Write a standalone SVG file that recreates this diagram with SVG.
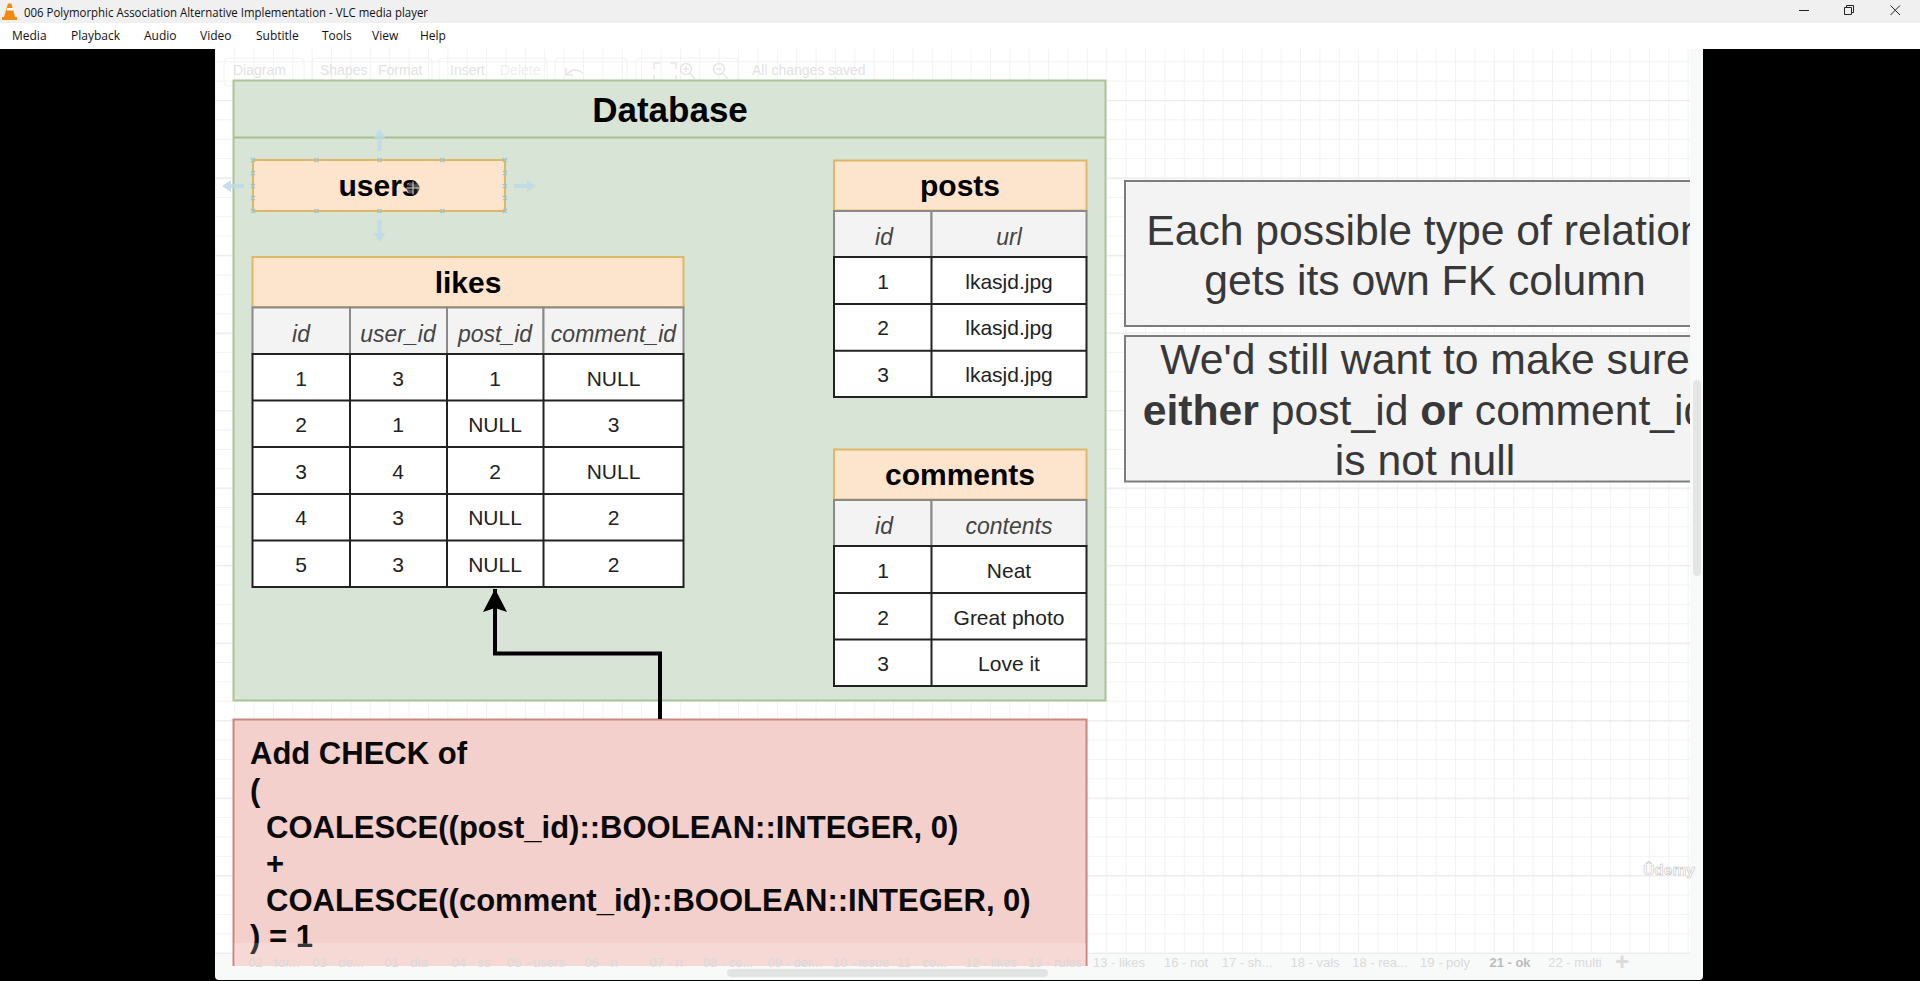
<svg xmlns="http://www.w3.org/2000/svg" width="1920" height="981" viewBox="0 0 1920 981">
<style>
text{font-family:"Liberation Sans",Arial,sans-serif}
.win{font-family:"Open Sans","Liberation Sans",sans-serif;font-size:12px;fill:#111}
.ttl{font-weight:700;font-size:30px;fill:#000;text-anchor:middle}
.hd{font-style:italic;font-size:23px;fill:#444;text-anchor:middle}
.cl{font-size:21px;fill:#222;text-anchor:middle}
.orange{fill:#fde4cd;stroke:#deb866;stroke-width:2}
.hrow{fill:#f3f3f3;stroke:#8a8a8a;stroke-width:2}
.row{fill:#fff;stroke:#222;stroke-width:2}
.note{fill:#f3f3f3;stroke:#7c7c7c;stroke-width:2}
.nt{font-size:42.700px;fill:#383838;text-anchor:middle}
.chk{font-weight:700;font-size:31px;fill:#0a0a0a}
.tab{font-size:13px;fill:#dadada;text-anchor:middle}
.tb{font-size:14px;fill:#e2e2e2}
.tbi{fill:none;stroke:#e6e6e6;stroke-width:1.500}
.tbo{fill:none;stroke:#f2f2f2;stroke-width:1}
.hdl{stroke:#9cc4d4;stroke-width:1.500;fill:none}
.sel{fill:#bcdbe8;opacity:.85}
</style>
<defs>
<pattern id="g" width="19.38" height="19.38" patternUnits="userSpaceOnUse" x="1.6" y="3.1">
<path d="M.5 0V19.38M0 .5H19.38" fill="none" stroke="#f1f2f2" stroke-width="1"/>
</pattern>
<pattern id="gm" width="19.38" height="77.52" patternUnits="userSpaceOnUse" x="1.6" y="22.5">
<path d="M0 .5H19.38" fill="none" stroke="#ececec" stroke-width="1.5"/>
</pattern>
<marker id="ah" markerUnits="userSpaceOnUse" markerWidth="26" markerHeight="26" refX="24" refY="12" orient="auto">
<path d="M24 12L1 0L5 12L1 24Z" fill="#000"/>
</marker>
<clipPath id="nclip"><rect x="1100" y="170" width="590" height="330"/></clipPath>
</defs>

<rect width="1920" height="981" fill="#000"/>
<rect width="1920" height="23" fill="#f0f0f0"/>
<rect y="23" width="1920" height="26" fill="#fff"/>
<path d="M8 3.500h3.500l3.500 13.500h2v3H2v-3h2z" fill="#f08a12"/><path d="M7.200 8h5.600l.6 2.400H6.600z" fill="#fff"/>
<text class="win" x="24" y="16.500" textLength="404" lengthAdjust="spacingAndGlyphs">006 Polymorphic Association Alternative Implementation - VLC media player</text>
<g>
<text class="win" x="12" y="40">Media</text><text class="win" x="71" y="40">Playback</text><text class="win" x="144" y="40">Audio</text><text class="win" x="200" y="40">Video</text><text class="win" x="256" y="40">Subtitle</text><text class="win" x="322" y="40">Tools</text><text class="win" x="372" y="40">View</text><text class="win" x="420" y="40">Help</text>
</g>
<path d="M1799 10.500h10" stroke="#222" stroke-width="1" fill="none"/>
<path d="M1844.500 7.500h7v7h-7zM1846.500 7.500v-2h7v7h-2" stroke="#222" stroke-width="1" fill="none"/>
<path d="M1890.500 5.500l9.500 9.500M1900 5.500l-9.500 9.500" stroke="#222" stroke-width="1" fill="none"/>

<path d="M215 52q0-3 3-3H1703V976q0 4-4 4H219q-4 0-4-4z" fill="#f8f9f9"/>
<rect x="215" y="49" width="1475" height="904" fill="#fff"/>
<rect x="215" y="49" width="1475" height="904" fill="url(#g)"/>
<rect x="215" y="49" width="1475" height="904" fill="url(#gm)"/>
<path d="M215 953.500H1690" stroke="#ececec" fill="none"/>

<g id="toolbar">
<text class="tb" x="233" y="75">Diagram</text><text class="tb" x="320" y="75">Shapes</text><text class="tb" x="378" y="75">Format</text><text class="tb" x="450" y="75">Insert</text><text class="tb" x="500" y="75" fill-opacity=".6">Delete</text><text class="tb" x="752" y="75">All changes saved</text>
<rect class="tbo" x="224" y="58" width="80" height="28" rx="4"/><rect class="tbo" x="312" y="58" width="120" height="28" rx="4"/><rect class="tbo" x="439" y="58" width="108" height="28" rx="4"/><rect class="tbo" x="555" y="58" width="72" height="28" rx="4"/><rect class="tbo" x="636" y="58" width="102" height="28" rx="4"/>
<path class="tbi" d="M566 75q8-9 17-2M566 68v7h7M654 69v-6h6M670 63h6v6M654 75v6h6M670 81h6v-6"/>
<circle class="tbi" cx="686" cy="69" r="5.500"/><path class="tbi" d="M690 73l5 6M683 69h6M686 66v6"/>
<circle class="tbi" cx="719" cy="69" r="5.500"/><path class="tbi" d="M723 73l5 6M716 69h6"/>
</g>

<g id="database">
<rect x="233.500" y="80.500" width="872" height="620" fill="#d8e4d6" stroke="#a9c497" stroke-width="2"/>
<path d="M233.500 137.500H1105.500" stroke="#a3bf90" stroke-width="2" fill="none"/>
<text x="670" y="122" font-weight="700" font-size="35" fill="#000" text-anchor="middle">Database</text>
</g>

<g id="users">
<rect class="orange" x="253" y="160" width="252" height="51"/>
<text class="ttl" x="378.500" y="196">users</text>
<path class="hdl" d="M251 158l4 4M255 158l-4 4M314.500 158l4 4M318.500 158l-4 4M377.500 158l4 4M381.500 158l-4 4M440.500 158l4 4M444.500 158l-4 4M503 158l4 4M507 158l-4 4M251 209l4 4M255 209l-4 4M314.500 209l4 4M318.500 209l-4 4M377.500 209l4 4M381.500 209l-4 4M440.500 209l4 4M444.500 209l-4 4M503 209l4 4M507 209l-4 4M251 171l4 4M255 171l-4 4M251 184l4 4M255 184l-4 4M251 196l4 4M255 196l-4 4M503 171l4 4M507 171l-4 4M503 184l4 4M507 184l-4 4M503 196l4 4M507 196l-4 4"/>
<path class="sel" d="M379.500 129l6 9h-4v13h-4v-13h-4zM379.500 242l6-9h-4v-13h-4v13h-4zM222 186l9-6v4h13v4h-13v4zM536 186l-9-6v4h-13v4h13v4z"/>
<circle cx="413" cy="188" r="6.500" fill="#222" fill-opacity=".75"/>
<path d="M413 181.500v13M406.500 188h13" stroke="#ddd" stroke-width="1"/>
</g>

<g id="likes">
<rect class="orange" x="252.500" y="257" width="431" height="50"/>
<text class="ttl" x="468" y="293">likes</text>
<rect class="hrow" x="252.500" y="307.500" width="97.500" height="46.500"/><rect class="hrow" x="350" y="307.500" width="97" height="46.500"/><rect class="hrow" x="447" y="307.500" width="96.500" height="46.500"/><rect class="hrow" x="543.500" y="307.500" width="140" height="46.500"/>
<text class="hd" x="301" y="342">id</text><text class="hd" x="398" y="342">user_id</text><text class="hd" x="495" y="342">post_id</text><text class="hd" x="613.500" y="342">comment_id</text>
<path class="row" d="M252.500 354H683.500V587H252.500ZM252.500 400.500H683.500M252.500 447H683.500M252.500 494H683.500M252.500 540.500H683.500M350 354V587M447 354V587M543.500 354V587"/>
<g class="cl">
<text x="301" y="386">1</text><text x="398" y="386">3</text><text x="495" y="386">1</text><text x="613.500" y="386">NULL</text>
<text x="301" y="432">2</text><text x="398" y="432">1</text><text x="495" y="432">NULL</text><text x="613.500" y="432">3</text>
<text x="301" y="479">3</text><text x="398" y="479">4</text><text x="495" y="479">2</text><text x="613.500" y="479">NULL</text>
<text x="301" y="525">4</text><text x="398" y="525">3</text><text x="495" y="525">NULL</text><text x="613.500" y="525">2</text>
<text x="301" y="572">5</text><text x="398" y="572">3</text><text x="495" y="572">NULL</text><text x="613.500" y="572">2</text>
</g>
</g>

<g id="posts">
<rect class="orange" x="834" y="160.500" width="252.500" height="50"/>
<text class="ttl" x="960" y="196">posts</text>
<rect class="hrow" x="834" y="211" width="97.500" height="46"/><rect class="hrow" x="931.500" y="211" width="155" height="46"/>
<text class="hd" x="884" y="245">id</text><text class="hd" x="1009" y="245">url</text>
<path class="row" d="M834 257H1086.500V397H834ZM834 304H1086.500M834 350.700H1086.500M931.500 257V397"/>
<g class="cl">
<text x="883" y="288.500">1</text><text x="1009" y="288.500">lkasjd.jpg</text>
<text x="883" y="335">2</text><text x="1009" y="335">lkasjd.jpg</text>
<text x="883" y="381.500">3</text><text x="1009" y="381.500">lkasjd.jpg</text>
</g>
</g>

<g id="comments">
<rect class="orange" x="834" y="449.500" width="252.500" height="50"/>
<text class="ttl" x="960" y="484.500">comments</text>
<rect class="hrow" x="834" y="500" width="97.500" height="46"/><rect class="hrow" x="931.500" y="500" width="155" height="46"/>
<text class="hd" x="884" y="534">id</text><text class="hd" x="1009" y="534">contents</text>
<path class="row" d="M834 546H1086.500V686H834ZM834 593H1086.500M834 639.500H1086.500M931.500 546V686"/>
<g class="cl">
<text x="883" y="578">1</text><text x="1009" y="578">Neat</text>
<text x="883" y="625">2</text><text x="1009" y="625">Great photo</text>
<text x="883" y="671">3</text><text x="1009" y="671">Love it</text>
</g>
</g>

<g id="note-fk" clip-path="url(#nclip)">
<rect class="note" x="1125" y="181" width="640" height="145"/>
<text class="nt" x="1425" y="245">Each possible type of relation</text>
<text class="nt" x="1425" y="295">gets its own FK column</text>
</g>

<g id="note-check" clip-path="url(#nclip)">
<rect class="note" x="1125" y="336" width="640" height="145.500"/>
<text class="nt" x="1425" y="374">We'd still want to make sure</text>
<text class="nt" x="1425" y="425"><tspan font-weight="700">either</tspan> post_id <tspan font-weight="700">or</tspan> comment_id</text>
<text class="nt" x="1425" y="475">is not null</text>
</g>

<g id="check">
<path d="M233.500 966V719.500H1086.500V966" fill="#f4d0cc" stroke="#c8887f" stroke-width="2"/>
<text class="chk" x="250" y="764">Add CHECK of</text>
<text class="chk" x="250" y="800.500">(</text>
<text class="chk" x="266" y="838">COALESCE((post_id)::BOOLEAN::INTEGER, 0)</text>
<text class="chk" x="266" y="874">+</text>
<text class="chk" x="266" y="911">COALESCE((comment_id)::BOOLEAN::INTEGER, 0)</text>
<text class="chk" x="250" y="947">) = 1</text>
<rect x="234" y="943" width="852" height="23" fill="#fff" fill-opacity=".18"/>
</g>

<g id="connectors">
<path d="M660 719V653.500H495V589" fill="none" stroke="#000" stroke-width="4" stroke-linejoin="miter" marker-end="url(#ah)"/>
</g>

<g id="tabs">
<text class="tab" x="274" y="967">02 - for...</text><text class="tab" x="338" y="967">03 - de...</text><text class="tab" x="406" y="967">01 - dia</text><text class="tab" x="471" y="967">04 - ss</text><text class="tab" x="536" y="967">05 - users</text><text class="tab" x="601" y="967">06 - n</text><text class="tab" x="666" y="967">07 - n</text><text class="tab" x="728" y="967">08 - co...</text><text class="tab" x="795" y="967">09 - der...</text><text class="tab" x="861" y="967">10 - issue</text><text class="tab" x="922" y="967">11 - co...</text><text class="tab" x="991" y="967">12 - likes</text><text class="tab" x="1055" y="967">13 - rules</text><text class="tab" x="1119" y="967">13 - likes</text><text class="tab" x="1186" y="967">16 - not</text><text class="tab" x="1247" y="967">17 - sh...</text><text class="tab" x="1315" y="967">18 - vals</text><text class="tab" x="1380" y="967">18 - rea...</text><text class="tab" x="1445" y="967">19 - poly</text><text class="tab" x="1510" y="967" font-weight="700" style="fill:#bcbcbc">21 - ok</text><text class="tab" x="1575" y="967">22 - multi</text><text class="tab" x="1622" y="970" font-weight="700" style="font-size:24px">+</text>
</g>

<rect x="727" y="969" width="321" height="8" rx="4" fill="#e2e4e4"/>
<rect x="1693" y="380" width="8" height="196" rx="4" fill="#e4e6e6"/>
<text x="1669" y="875" font-size="15.500" font-weight="700" fill="#fff" stroke="#c4c4c4" stroke-width=".6" text-anchor="middle">Ûdemy</text>
</svg>
